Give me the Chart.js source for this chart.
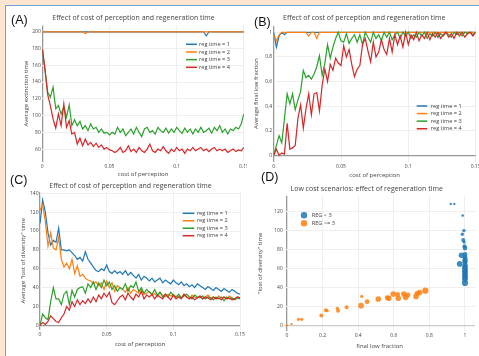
<!DOCTYPE html>
<html>
<head>
<meta charset="utf-8">
<script src="https://cdn.jsdelivr.net/npm/chart.js@4.4.1/dist/chart.umd.min.js"></script>
<style>
  html, body { margin: 0; padding: 0; }
  body { width: 479px; height: 356px; overflow: hidden; position: relative; background: #fde5d0; font-family: "Open Sans", sans-serif; }
  #frame { position: absolute; left: 5px; top: 5px; width: 500px; height: 380px; background: #fff; border-left: 1.5px solid #6f9fd5; border-top: 1.5px solid #6f9fd5; }
  canvas { position: absolute; }
  .tag { position: absolute; font-family: "Liberation Sans", Arial, sans-serif; font-size: 12.5px; line-height: 1; color: #111; z-index: 5; }
  .ttl { position: absolute; font-size: 7px; line-height: 1; color: #444; white-space: nowrap; transform: translateX(-50%); z-index: 5; }
</style>
</head>
<body>
<div id="frame"></div>

<div class="tag" style="left:11px; top:14.4px">(A)</div>
<div class="tag" style="left:254px; top:16px">(B)</div>
<div class="tag" style="left:10px; top:173.7px">(C)</div>
<div class="tag" style="left:261px; top:171px">(D)</div>

<div class="ttl" style="left:133.5px; top:13.6px">Effect of cost of perception and regeneration time</div>
<div class="ttl" style="left:364.3px; top:13.6px">Effect of cost of perception and regeneration time</div>
<div class="ttl" style="left:130.5px; top:181.6px">Effect of cost of perception and regeneration time</div>
<div class="ttl" style="left:366.7px; top:184.8px">Low cost scenarios: effect of regeneration time</div>

<script>
// cost of perception grid (x values of panels A-C)
const cost = [
  0, 0.002, 0.004, 0.006, 0.008, 0.01, 0.012, 0.014, 0.016, 0.018,
  0.02, 0.022, 0.024, 0.026, 0.028, 0.03, 0.032, 0.034, 0.036, 0.038,
  0.04, 0.042, 0.044, 0.046, 0.048, 0.05, 0.052, 0.054, 0.056, 0.058,
  0.06, 0.062, 0.064, 0.066, 0.068, 0.07, 0.072, 0.074, 0.076, 0.078,
  0.08, 0.082, 0.084, 0.086, 0.088, 0.09, 0.092, 0.094, 0.096, 0.098,
  0.1, 0.102, 0.104, 0.106, 0.108, 0.11, 0.112, 0.114, 0.116, 0.118,
  0.12, 0.122, 0.124, 0.126, 0.128, 0.13, 0.132, 0.134, 0.136, 0.138,
  0.14, 0.142, 0.144, 0.146, 0.148, 0.15
];

const regLabels = ["reg time = 1", "reg time = 2", "reg time = 3", "reg time = 4"];
const regColors = ["#1f77b4", "#ff7f0e", "#2ca02c", "#d62728"];

// (A) average extinction time
const extinctReg1 = [
  200,200,200,200,200,200,200,200,200,200,
  200,200,200,200,200,200,200,200,200,200,
  200,200,200,200,200,200,200,200,200,200,
  200,200,200,200,200,200,200,200,200,200,
  200,200,200,200,200,200,200,200,200,200,
  200,200,200,200,200,200,200,200,200,200,
  200,195,200,200,200,200,200,200,200,200,
  200,200,200,200,200,200
];
const extinctReg2 = [
  200,200,200,200,200,200,200,200,200,200,
  200,200,200,200,200,200,198,200,200,200,
  200,200,200,200,200,200,200,200,200,200,
  200,200,200,200,200,200,200,200,200,200,
  200,200,200,200,200,200,200,200,200,200,
  200,200,200,200,200,200,200,200,200,200,
  200,200,200,200,200,200,200,200,200,200,
  200,200,200,200,200,200
];
const extinctReg3 = [
  180,155,128,122,134,108,112,102,110,98,
  113,88,95,88,93,84,88,82,90,84,
  86,80,84,79,80,77,80,78,86,80,
  84,76,80,84,78,86,80,75,84,86,
  80,82,78,86,82,80,85,79,84,80,
  86,82,79,85,80,84,78,84,80,86,
  80,82,85,79,86,82,88,80,84,78,
  84,82,86,84,90,102
];
const extinctReg4 = [
  180,155,125,112,96,85,102,88,114,86,
  94,78,80,66,73,64,72,65,68,63,
  67,62,65,60,62,59,58,56,58,62,
  56,58,64,57,60,56,62,58,56,60,
  66,58,56,60,58,63,58,55,60,57,
  62,58,60,55,60,58,62,58,60,62,
  58,60,57,60,62,58,60,58,60,56,
  58,60,57,59,58,62
];

// (B) average final low fraction
const lowFracReg1 = [
  1,0.88,0.97,1,0.98,1,1,1,1,1,
  1,1,1,1,1,1,1,1,1,1,
  1,1,1,1,1,1,1,1,1,1,
  1,1,1,1,1,1,1,1,1,1,
  1,1,1,1,1,1,1,1,1,1,
  1,1,1,1,1,1,1,1,1,1,
  1,0.96,1,1,1,1,1,1,1,1,
  1,1,1,1,1,1
];
const lowFracReg2 = [
  0.98,0.93,0.98,1,1,1,1,1,1,1,
  1,1,1,0.97,1,1,0.95,1,1,1,
  1,1,1,1,1,1,1,1,1,1,
  1,1,1,1,1,1,1,1,1,1,
  1,1,1,1,1,1,1,1,1,1,
  1,1,1,1,1,1,1,1,1,1,
  1,1,1,1,1,1,1,1,1,1,
  1,1,1,1,1,1
];
const lowFracReg3 = [
  0,0.08,0.16,0.1,0.3,0.5,0.42,0.5,0.37,0.45,
  0.52,0.69,0.63,0.65,0.62,0.66,0.72,0.81,0.65,0.75,
  0.9,0.79,0.88,0.95,1,0.93,0.92,0.99,0.91,0.95,
  0.98,0.92,0.98,0.9,1,0.96,0.92,1,0.95,0.98,
  0.93,1,0.96,1,0.94,0.98,1,0.95,1,0.97,
  1,0.95,0.98,0.96,1,0.97,1,0.95,0.99,0.97,
  1,0.96,0.99,0.97,1,0.98,0.96,1,0.98,1,
  0.97,1,0.99,1,0.98,1
];
const lowFracReg4 = [
  0,0.05,0,0.02,0.01,0.26,0.05,0.06,0.08,0.3,
  0.41,0.22,0.38,0.5,0.33,0.5,0.51,0.36,0.57,0.7,
  0.6,0.74,0.69,0.79,0.75,0.73,0.89,0.8,0.86,0.74,
  0.64,0.7,0.73,0.9,0.95,0.85,0.76,0.92,0.8,0.84,
  0.94,0.86,0.82,0.95,0.84,0.98,0.9,0.97,0.88,1,
  0.9,0.98,0.94,1,0.93,0.98,0.95,1,0.94,0.99,
  0.96,1,0.95,0.98,1,0.96,0.99,0.95,1,0.97,
  1,0.96,0.99,1,0.97,1
];

// (C) average "lost of diversity" time
const lostDivReg1 = [
  108,133,120,98,85,90,88,103,80,80,
  79,80,77,74,70,72,68,78,70,66,
  62,58,57,60,58,64,57,55,58,55,
  57,54,58,53,56,53,50,54,48,52,
  50,47,50,46,48,50,45,48,46,44,
  48,45,43,46,42,44,41,43,40,44,
  42,40,38,41,39,37,40,38,36,39,
  37,35,38,36,34,33
];
const lostDivReg2 = [
  122,128,110,84,98,82,80,93,70,62,
  66,60,70,55,63,52,54,50,48,47,
  44,46,42,45,38,47,40,45,36,42,
  40,38,35,40,34,38,36,34,38,33,
  34,36,32,34,30,35,32,30,33,31,
  33,30,31,29,33,30,28,32,30,29,
  31,28,30,32,29,30,28,31,29,30,
  28,31,29,28,30,29
];
const lostDivReg3 = [
  0,12,8,6,25,40,28,28,22,33,
  36,22,37,30,38,40,41,34,44,40,
  46,38,45,40,48,42,46,38,42,36,
  40,38,44,36,42,40,46,36,40,34,
  38,35,33,38,32,35,30,33,30,35,
  32,30,33,29,31,33,30,28,32,30,
  29,31,28,30,29,27,30,28,30,26,
  30,28,29,27,29,28
];
const lostDivReg4 = [
  0,3,1,4,10,7,4,3,8,12,
  20,16,25,20,27,22,26,23,28,24,
  30,25,32,28,34,30,35,24,22,26,
  30,32,27,34,30,27,33,30,36,28,
  32,30,33,28,32,30,28,33,30,27,
  32,28,30,28,33,30,28,30,27,29,
  31,28,30,29,27,30,28,29,27,30,
  28,29,27,28,30,29
];

// (D) low cost scenarios
const regLowX = [0.92,0.94,0.987,0.994,0.985,0.99,0.995,0.997,1,1,0.98,1,1,1,1,0.97,1,1,1,1,1,1,1,1,1,1];
const regLowY = [127.7,127.7,115.5,99.8,96,90,88,83.5,81.5,75,74,72,70,68,66,65,63,61,59.5,58,56,54.5,53,51,49,45];
const regLowSize = [1.2,1.2,1.3,1.7,1.7,2,1.7,2,2.4,2.4,2.8,2.4,2.4,2.8,2.4,2.8,2.8,2.8,2.4,2.8,2.8,2.4,2.8,2.8,2.8,3.1];
const regHighX = [0,0.026,0.065,0.083,0.193,0.219,0.226,0.283,0.287,0.335,0.416,0.42,0.45,0.513,0.563,0.572,0.597,0.622,0.625,0.657,0.667,0.68,0.725,0.73,0.745,0.777];
const regHighY = [0.7,2,7,7,11,16.4,16,18.5,16,19.6,21.3,31,25.5,28.3,29.7,29,33.5,33,29,33.5,30,32.5,31,34,35,37];
const regHighSize = [1.2,1.2,1.6,1.6,2,2,1.6,1.6,2,2,2.8,1.6,2.4,2.8,2.4,2.8,2.8,2.4,2.8,2.8,2.8,2.4,2.8,2.4,2.8,3.1];

// tick values
const costTicks = [0, 0.05, 0.1, 0.15];
const extinctTicks = [60, 80, 100, 120, 140, 160, 180, 200];
const fracTicks = [0, 0.2, 0.4, 0.6, 0.8, 1];
const lostTicks = [0, 20, 40, 60, 80, 100, 120, 140];
const fracTicksD = [0, 0.2, 0.4, 0.6, 0.8, 1];
const lostTicksD = [0, 20, 40, 60, 80, 100, 120];

const FONT = '"Open Sans", "DejaVu Sans", sans-serif';
const TITLE_LH = 6 * 1.2;

// legend drawn inside the plot area
const insideLegend = {
  id: "insideLegend",
  afterDraw(chart, args, o) {
    if (!o || o.textX === undefined) return;
    const ctx = chart.ctx;
    ctx.save();
    ctx.font = "5.6px " + FONT;
    ctx.textBaseline = "middle";
    chart.data.datasets.forEach((ds, i) => {
      const y = o.y0 + i * o.dy;
      if (o.kind === "circle") {
        ctx.fillStyle = ds.backgroundColor;
        ctx.beginPath();
        ctx.arc(o.x0, y, o.r, 0, Math.PI * 2);
        ctx.fill();
      } else {
        ctx.strokeStyle = ds.borderColor;
        ctx.lineWidth = 1.5;
        ctx.beginPath();
        ctx.moveTo(o.x0, y);
        ctx.lineTo(o.x1, y);
        ctx.stroke();
      }
      ctx.fillStyle = "#444";
      ctx.fillText(ds.label, o.textX, y);
    });
    ctx.restore();
  }
};
Chart.register(insideLegend);

function addCanvas(left, top, w, h, bg) {
  const c = document.createElement("canvas");
  c.width = w;
  c.height = h;
  c.style.left = left + "px";
  c.style.top = top + "px";
  c.style.width = w + "px";
  c.style.height = h + "px";
  if (bg) c.style.background = bg;
  document.body.appendChild(c);
  return c;
}

function axis(a, horizontal, titlePad, fitSize) {
  const isZero = c => c.tick && Math.abs(c.tick.value) < 1e-9;
  return {
    type: "linear",
    min: a.min,
    max: a.max,
    afterBuildTicks: s => { s.ticks = a.ticks.map(v => ({ value: v })); },
    afterFit: s => { if (horizontal) s.height = fitSize; else s.width = fitSize; },
    ticks: {
      font: { family: FONT, size: 5 },
      color: "#444",
      padding: horizontal ? 2 : 1.5,
      maxRotation: 0,
      autoSkip: false,
      callback: v => String(+v.toFixed(3))
    },
    grid: {
      drawTicks: false,
      color: c => isZero(c) ? a.zero : "#eeeeee",
      lineWidth: c => isZero(c) ? 1.3 : 1
    },
    border: { display: false },
    title: {
      display: true,
      text: a.title,
      font: { family: FONT, size: 6 },
      color: "#444",
      padding: horizontal ? { top: 0, bottom: titlePad } : { top: titlePad, bottom: 0 }
    }
  };
}

function makePanel(p) {
  const canvas = addCanvas(p.left, p.top, p.w, p.h, p.bg);
  const legend = Object.assign({}, p.legend);
  ["x0", "x1", "textX"].forEach(k => { if (legend[k] !== undefined) legend[k] -= p.left; });
  legend.y0 -= p.top;
  return new Chart(canvas, {
    type: p.type,
    data: { datasets: p.datasets },
    options: {
      responsive: false,
      animation: false,
      devicePixelRatio: 1,
      layout: { padding: { left: 0, top: p.area.t - p.top, right: p.left + p.w - p.area.r, bottom: 0 } },
      plugins: { legend: { display: false }, tooltip: { enabled: false }, insideLegend: legend },
      scales: {
        x: axis(p.x, true, p.top + p.h - p.x.titleY - TITLE_LH / 2, p.top + p.h - p.area.b),
        y: axis(p.y, false, p.y.titleX - p.left - TITLE_LH / 2, p.area.l - p.left)
      }
    }
  });
}

function lineSets(series) {
  return series.map((vals, i) => ({
    label: regLabels[i],
    data: cost.map((c, j) => ({ x: c, y: vals[j] })),
    borderColor: regColors[i],
    backgroundColor: regColors[i],
    borderWidth: 1.2,
    pointRadius: 0,
    fill: false,
    tension: 0,
    order: 3 - i
  }));
}

// (A)
makePanel({
  type: "line", left: 0, top: 0, w: 260, h: 180,
  area: { l: 42.3, r: 243.9, t: 25.5, b: 161.5 },
  x: { min: 0, max: 0.15, ticks: costTicks, title: "cost of perception", titleY: 174.5, zero: "#999" },
  y: { min: 45.2, max: 207.5, ticks: extinctTicks, title: "Average extinction time", titleX: 26.3, zero: "#999" },
  datasets: lineSets([extinctReg1, extinctReg2, extinctReg3, extinctReg4]),
  legend: { kind: "line", x0: 186, x1: 197, textX: 199, y0: 44.3, dy: 7.67 }
});

// (B)
makePanel({
  type: "line", left: 247, top: 7, w: 250, h: 173, bg: "#fff",
  area: { l: 273.7, r: 475.6, t: 26, b: 161.5 },
  x: { min: 0, max: 0.15, ticks: costTicks, title: "cost of perception", titleY: 175, zero: "#999" },
  y: { min: -0.0504, max: 1.0512, ticks: fracTicks, title: "Average final low fraction", titleX: 256.7, zero: "#999" },
  datasets: lineSets([lowFracReg1, lowFracReg2, lowFracReg3, lowFracReg4]),
  legend: { kind: "line", x0: 416.7, x1: 427.3, textX: 430.7, y0: 106, dy: 7.57 }
});

// (C)
makePanel({
  type: "line", left: 0, top: 180, w: 260, h: 176,
  area: { l: 40, r: 240, t: 191.7, b: 330 },
  x: { min: 0, max: 0.15, ticks: costTicks, title: "cost of perception", titleY: 344.3, zero: "#999" },
  y: { min: -5, max: 141.7, ticks: lostTicks, title: 'Average "lost of diversity" time', titleX: 23.3, zero: "#999" },
  datasets: lineSets([lostDivReg1, lostDivReg2, lostDivReg3, lostDivReg4]),
  legend: { kind: "line", x0: 182.7, x1: 194.3, textX: 196.7, y0: 213.3, dy: 7.47 }
});

// (D)
makePanel({
  type: "scatter", left: 247, top: 180, w: 250, h: 176, bg: "#fff",
  area: { l: 284.3, r: 475, t: 195.7, b: 331 },
  x: { min: -0.015, max: 1.0562, ticks: fracTicksD, title: "final low fraction", titleY: 346.7, zero: "#999" },
  y: { min: -5.2, max: 136.3, ticks: lostTicksD, title: '"lost of diversity" time', titleX: 260, zero: "#ccc" },
  datasets: [
    {
      label: "REG < 3",
      data: regLowX.map((x, i) => ({ x, y: regLowY[i] })),
      pointRadius: regLowSize,
      backgroundColor: "rgba(31,119,180,0.85)",
      pointBorderWidth: 0,
      order: 1
    },
    {
      label: "REG >= 3",
      data: regHighX.map((x, i) => ({ x, y: regHighY[i] })),
      pointRadius: regHighSize,
      backgroundColor: "rgba(255,127,14,0.85)",
      pointBorderWidth: 0,
      order: 0
    }
  ],
  legend: { kind: "circle", x0: 304, r: 3.2, textX: 311.7, y0: 215.3, dy: 8 }
});
</script>
</body>
</html>
